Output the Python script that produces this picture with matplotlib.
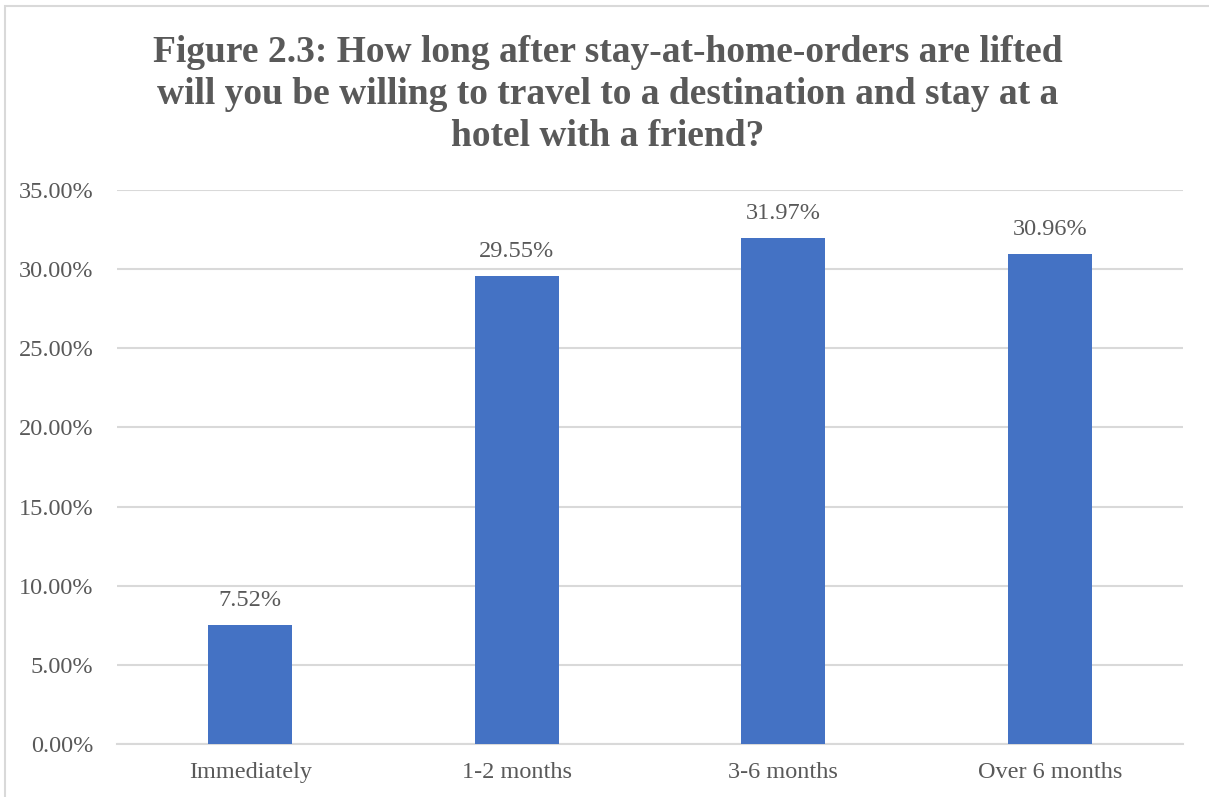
import matplotlib.pyplot as plt
from matplotlib.patches import Rectangle
from matplotlib.ticker import FuncFormatter

categories = ['Immediately', '1-2 months', '3-6 months', 'Over 6 months']
shares = [7.52, 29.55, 31.97, 30.96]
y_ticks = [0, 5, 10, 15, 20, 25, 30, 35]

title = ('Figure 2.3: How long after stay-at-home-orders are lifted\n'
         'will you be willing to travel to a destination and stay at a\n'
         'hotel with a friend?')

gray = '#595959'
bar_color = '#4472C4'
grid_color = '#D9D9D9'

plt.rcParams['font.family'] = ['Liberation Serif', 'DejaVu Serif']

fig = plt.figure(figsize=(12.09, 7.97), dpi=100)
# light chart frame
fig.patches.append(Rectangle((5 / 1209, -0.1), 1.2, 1.1 - 6 / 797,
                             transform=fig.transFigure, fill=False,
                             edgecolor=grid_color, linewidth=1.5))

ax = fig.add_axes([117 / 1209, 1 - 744 / 797, 1066 / 1209, 554 / 797])
x = range(len(categories))
bars = ax.bar(x, shares, width=0.316, color=bar_color, zorder=3)
ax.set_xlim(-0.5, len(categories) - 0.5)
ax.set_ylim(0, 35)
ax.set_yticks(y_ticks)
ax.yaxis.set_major_formatter(FuncFormatter(lambda v, p: f'{v:.2f}%'))
ax.set_xticks(list(x))
ax.set_xticklabels(categories)
ax.grid(axis='y', color=grid_color, linewidth=1.5, zorder=0)
for side in ['top', 'right', 'left']:
    ax.spines[side].set_visible(False)
ax.spines['bottom'].set_color(grid_color)
ax.spines['bottom'].set_linewidth(1.5)
ax.tick_params(length=0, labelsize=17.5, labelcolor=gray)
ax.tick_params(axis='x', pad=13)
ax.tick_params(axis='y', pad=17)

for b, v in zip(bars, shares):
    ax.annotate(f'{v:.2f}%', (b.get_x() + b.get_width() / 2, v),
                xytext=(0, 10), textcoords='offset points',
                ha='center', va='bottom', fontsize=17.5, color=gray)

fig.text(608 / 1209, 1 - 35 / 797, title, ha='center', va='top',
         fontsize=27, fontweight='bold', color=gray, linespacing=1.26)

fig.savefig('out.png', dpi=100)
